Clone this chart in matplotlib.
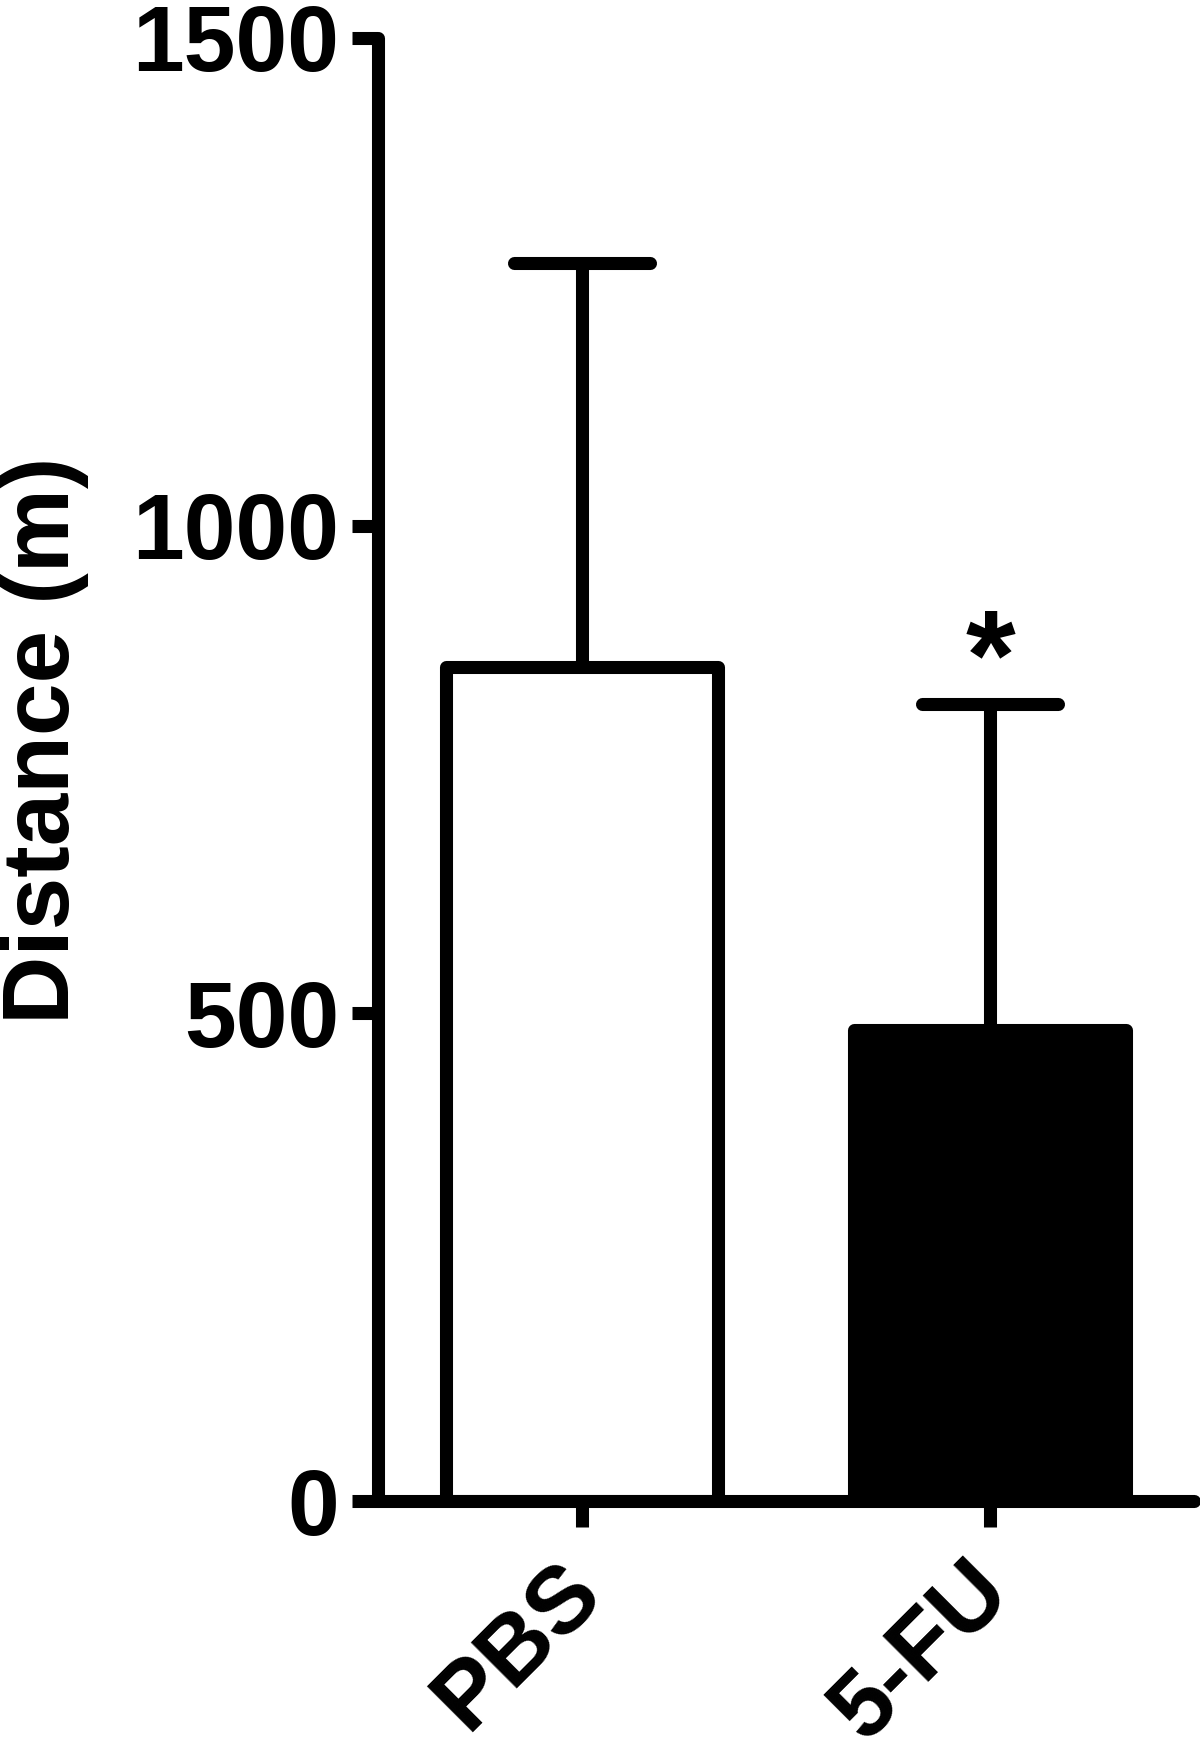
import matplotlib
matplotlib.use("Agg")
import matplotlib.pyplot as plt
import matplotlib.transforms as mtransforms
import numpy as np

# Data
categories = ["PBS", "5-FU"]
means = [855, 483]
sems = [414, 334]
fill_colors = ["white", "black"]
y_ticks = [0, 500, 1000, 1500]
y_tick_labels = ["0", "500", "1000", "1500"]
sig_labels = ["", "*"]

plt.rcParams['font.family'] = ['Liberation Sans', 'DejaVu Sans']
plt.rcParams['font.weight'] = 'bold'

LW = 9.4  # points (~13 px at 100 dpi)

fig = plt.figure(figsize=(12, 17.43), dpi=100)
ax = fig.add_axes([378/1200, 242/1743, 816/1200, 1463/1743])

x = np.arange(len(categories))
bars = ax.bar(x, means, width=0.665, color=fill_colors, edgecolor="black",
              linewidth=LW, zorder=2)
for b in bars:
    b.set_joinstyle('round')

tops = np.array(means) + np.array(sems)
ax.vlines(x, means, tops, colors="black", linewidth=LW, zorder=3)
hl = ax.hlines(tops, x - 0.1667, x + 0.1667, colors="black", linewidth=LW, zorder=3)
hl.set_capstyle('round')

for xi, t, s in zip(x, tops, sig_labels):
    if s:
        ax.annotate(s, xy=(xi, t), xytext=(0, 4), textcoords='offset points',
                    ha='center', va='baseline', fontsize=92, fontweight='bold')

ax.set_xlim(-0.5, 1.5)
ax.set_ylim(0, 1500)
ax.set_yticks(y_ticks)
ax.set_yticklabels(y_tick_labels, fontsize=67, fontweight='bold')
ax.set_xticks(x)
ax.set_xticklabels(categories, fontsize=68, fontweight='bold', rotation=45,
                   ha='right', rotation_mode='anchor')

ax.tick_params(axis='both', direction='out', length=18.7, width=LW, color='black')
ax.tick_params(axis='y', pad=9)
ax.tick_params(axis='x', pad=14)

shift = mtransforms.ScaledTranslation(-26/100, 0, fig.dpi_scale_trans)
for lbl in ax.get_xticklabels():
    lbl.set_transform(lbl.get_transform() + shift)

for side in ['top', 'right']:
    ax.spines[side].set_visible(False)
for side in ['left', 'bottom']:
    ax.spines[side].set_linewidth(LW)
    ax.spines[side].set_capstyle('round')
    ax.spines[side].set_zorder(4)

ax.set_ylabel("Distance (m)", fontsize=68, fontweight='bold', va='center')
ax.yaxis.set_label_coords((45 - 378) / 816, (1501 - 740) / 1463)

fig.savefig("out.png", dpi=100, facecolor="white")
